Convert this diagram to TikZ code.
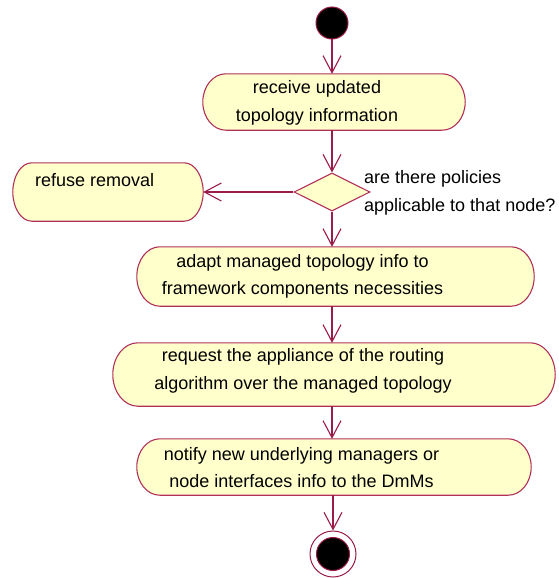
\documentclass[tikz,border=0pt]{standalone}
\usepackage{fontspec}
\setmainfont{Liberation Sans}
\usetikzlibrary{arrows.meta,shapes.geometric,calc}

\definecolor{flowred}{HTML}{9B1B4B}
\definecolor{boxedge}{HTML}{B0305A}
\definecolor{boxfill}{HTML}{FFFFCC}

\tikzset{
  activity/.style={inner sep=0pt},
  activityshape/.style={draw=boxedge, fill=boxfill, line width=1.1pt},
  decision/.style={diamond, draw=boxedge, fill=boxfill, line width=1.1pt,
    inner sep=0pt, aspect=2},
  flow/.style={draw=flowred, line width=1.1pt,
    -{Straight Barb[length=17pt,width=18pt,line width=1.1pt]}},
  label/.style={inner sep=0pt, font=\fontsize{18}{27.5}\selectfont},
}

% outline of an activity state: straight top and bottom, half-elliptic ends
\newcommand\actoutline[2][23pt]{%
  \path[activityshape] let \p1=(#2.north east), \p2=(#2.south west) in
    ({\x2+#1},\y1) -- ({\x1-#1},\y1)
    arc[start angle=90, end angle=-90, x radius=#1, y radius={(\y1-\y2)/2}]
    -- ({\x2+#1},\y2)
    arc[start angle=270, end angle=90, x radius=#1, y radius={(\y1-\y2)/2}]
    -- cycle;}

\begin{document}
\begin{tikzpicture}[x=1pt,y=-1pt]
\useasboundingbox (0,0) rectangle (558,578);

% initial state
\node[circle, fill=black, draw=flowred, line width=1pt, minimum size=32pt, inner sep=0pt] (start) at (332,23) {};

% activities
\node[activity, minimum width=262pt, minimum height=56pt] (recv) at (334,102) {};
\actoutline{recv}
\node[label, align=center] (recvtxt) at (317,103) {receive updated\\topology information};

\node[decision, minimum width=76pt, minimum height=38pt] (cond) at (332,192) {};
\node[label, align=left, anchor=west] (condtxt) at (364,193) {are there policies\\applicable to that node?};

\node[activity, minimum width=190pt, minimum height=58pt] (refuse) at (108,192) {};
\actoutline[19pt]{refuse}
\node[label, anchor=west] (refusetxt) at (35,180) {refuse removal};

\node[activity, minimum width=397pt, minimum height=59pt] (adapt) at (335.5,276.5) {};
\actoutline{adapt}
\node[label, align=center] (adapttxt) at (302.5,276.5) {adapt managed topology info to\\framework components necessities};

\node[activity, minimum width=442pt, minimum height=63pt] (route) at (334,374.5) {};
\actoutline[25pt]{route}
\node[label, align=center] (routetxt) at (303,371) {request the appliance of the routing\\algorithm over the managed topology};

\node[activity, minimum width=394pt, minimum height=56pt] (notify) at (334,467) {};
\actoutline{notify}
\node[label, align=center] (notifytxt) at (301.5,467.5) {notify new underlying managers or\\node interfaces info to the DmMs};

% final state
\node[circle, draw=flowred, fill=white, line width=1pt, minimum size=46pt, inner sep=0pt] (final) at (333,554) {};
\node[circle, fill=black, draw=flowred, line width=1pt, minimum size=33pt, inner sep=0pt] (finaldot) at (final.center) {};

% transitions
\draw[flow] (start) -- (start |- recv.north);
\draw[flow] (recv.south -| cond) -- (cond.north);
\draw[flow] (cond.west) -- (refuse.east);
\draw[flow] (cond.south) -- (cond |- adapt.north);
\draw[flow] (adapt.south -| cond) -- (cond |- route.north);
\draw[flow] (route.south -| cond) -- (cond |- notify.north);
\draw[flow] (notify.south -| final) -- (final.north);
\end{tikzpicture}
\end{document}
